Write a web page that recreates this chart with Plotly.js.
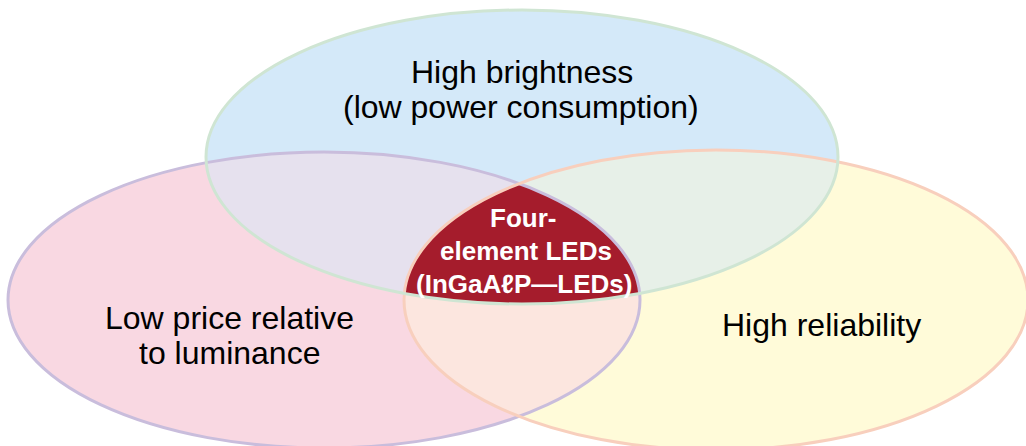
<!DOCTYPE html>
<html>
<head>
<meta charset="utf-8">
<script src="https://cdn.plot.ly/plotly-3.0.1.min.js"></script>
<style>
  html, body { margin: 0; padding: 0; background: #fff; }
  #chart { width: 1026px; height: 446px; }
</style>
</head>
<body>
<div id="chart"></div>
<script>
// Three-way Venn: what a four-element LED has to offer.
const setNames  = ['brightness', 'price', 'reliability'];
const setLabels = [
  ['High brightness', '(low power consumption)'],
  ['Low price relative', 'to luminance'],
  ['High reliability'],
];
const centerLabel = ['Four-', 'element LEDs', '(InGaA\u2113P\u2014LEDs)'];

// Ellipse geometry in pixel units (axes map 1:1 to the 1026x446 canvas).
const ellipses = {
  brightness:  { cx: 522, cy: 157, rx: 316, ry: 147, fill: '#d4e9f9', line: '#cfe5d3' },
  price:       { cx: 324, cy: 300, rx: 316, ry: 148, fill: '#f9d8e2', line: '#c9bddc' },
  reliability: { cx: 716, cy: 300, rx: 312, ry: 150, fill: '#fffbd9', line: '#f8cfbd' },
};
const overlapFill = {
  'brightness+price':       '#e6e1ee',
  'brightness+reliability': '#e7f0e8',
  'price+reliability':      '#fce6df',
  'brightness+price+reliability': '#a51c2c',
};
const labelPos = {
  brightness:  [{ x: 522, y: 72 }, { x: 521, y: 107 }],
  price:       [{ x: 229, y: 318 }, { x: 229, y: 353 }],
  reliability: [{ x: 821, y: 325 }],
};
const centerPos = [{ x: 523, y: 218 }, { x: 526, y: 251 }, { x: 524, y: 284 }];

function inside(e, x, y) {
  const dx = (x - e.cx) / e.rx, dy = (y - e.cy) / e.ry;
  return dx * dx + dy * dy <= 1.000001;
}

// Boundary of the (convex) intersection of several ellipses as an SVG path.
function intersectionPath(list) {
  const pts = [];
  const n = 1440;
  list.forEach((e, i) => {
    for (let k = 0; k < n; k++) {
      const t = 2 * Math.PI * k / n;
      const x = e.cx + e.rx * Math.cos(t), y = e.cy + e.ry * Math.sin(t);
      if (list.every((o, j) => j === i || inside(o, x, y))) pts.push([x, y]);
    }
  });
  const mx = pts.reduce((s, p) => s + p[0], 0) / pts.length;
  const my = pts.reduce((s, p) => s + p[1], 0) / pts.length;
  pts.sort((a, b) => Math.atan2(a[1] - my, a[0] - mx) - Math.atan2(b[1] - my, b[0] - mx));
  return 'M' + pts.map(p => p[0].toFixed(2) + ',' + p[1].toFixed(2)).join('L') + 'Z';
}

const shapes = [];
// base fills
['price', 'reliability', 'brightness'].forEach(k => {
  const e = ellipses[k];
  shapes.push({
    type: 'circle', xref: 'x', yref: 'y',
    x0: e.cx - e.rx, x1: e.cx + e.rx, y0: e.cy - e.ry, y1: e.cy + e.ry,
    fillcolor: e.fill, line: { width: 0 },
  });
});
// overlaps
Object.keys(overlapFill).forEach(key => {
  shapes.push({
    type: 'path', xref: 'x', yref: 'y',
    path: intersectionPath(key.split('+').map(k => ellipses[k])),
    fillcolor: overlapFill[key], line: { width: 0 },
  });
});
// outlines on top
['price', 'reliability', 'brightness'].forEach(k => {
  const e = ellipses[k];
  shapes.push({
    type: 'circle', xref: 'x', yref: 'y',
    x0: e.cx - e.rx, x1: e.cx + e.rx, y0: e.cy - e.ry, y1: e.cy + e.ry,
    fillcolor: 'rgba(0,0,0,0)', line: { color: e.line, width: 3 },
  });
});

const annotations = [];
setNames.forEach((k, i) => {
  setLabels[i].forEach((txt, j) => {
    annotations.push({
      x: labelPos[k][j].x, y: labelPos[k][j].y, xref: 'x', yref: 'y',
      text: txt, showarrow: false, xanchor: 'center', yanchor: 'middle',
      font: { family: 'Liberation Sans, Arial, sans-serif', size: 32, color: '#000' },
    });
  });
});
centerLabel.forEach((txt, j) => {
  annotations.push({
    x: centerPos[j].x, y: centerPos[j].y, xref: 'x', yref: 'y',
    text: '<b>' + txt + '</b>', showarrow: false, xanchor: 'center', yanchor: 'middle',
    font: { family: 'Liberation Sans, Arial, sans-serif', size: 26, color: '#ffffff' },
  });
});

const axis = { visible: false, fixedrange: true, showgrid: false, zeroline: false };
Plotly.newPlot('chart', [], {
  width: 1026, height: 446,
  margin: { l: 0, r: 0, t: 0, b: 0 },
  paper_bgcolor: '#ffffff', plot_bgcolor: '#ffffff',
  xaxis: { ...axis, range: [0, 1026] },
  yaxis: { ...axis, range: [446, 0] },
  shapes, annotations, showlegend: false,
}, { displayModeBar: false, staticPlot: true });
</script>
</body>
</html>
